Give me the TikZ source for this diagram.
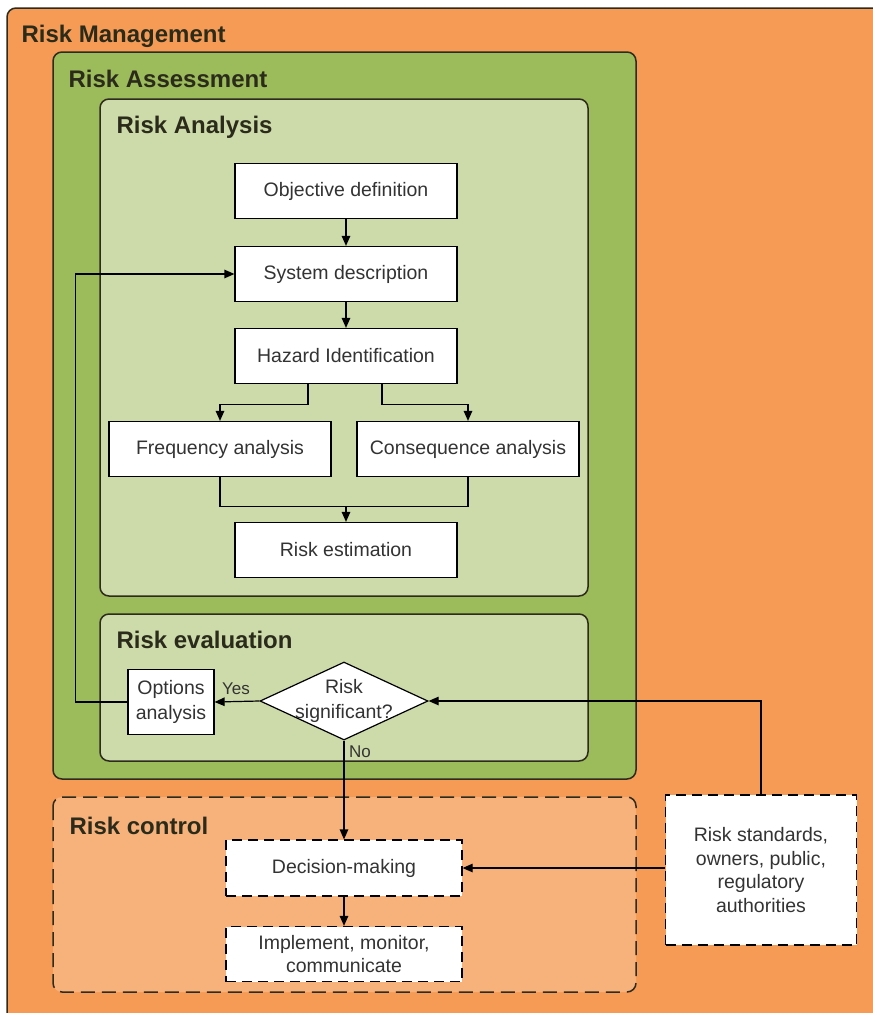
\documentclass[tikz,border=0pt]{standalone}
\usepackage{fontspec}
\setmainfont{Liberation Sans}
\usetikzlibrary{arrows.meta,shapes.geometric}
\definecolor{mgmt}{HTML}{F59B55}
\definecolor{assess}{HTML}{9CBB5A}
\definecolor{light}{HTML}{CCDBA9}
\definecolor{control}{HTML}{F7B27B}
\definecolor{edge}{HTML}{2D2A1E}
\definecolor{titletxt}{HTML}{2B2B1B}
\definecolor{boxtxt}{HTML}{333333}

\begin{document}
\begin{tikzpicture}[x=1pt,y=-1pt,
  container/.style={draw=edge,line width=1.5pt,rounded corners=9pt},
  title/.style={anchor=base west,font=\fontsize{24}{28}\selectfont\bfseries,text=titletxt},
  stepbox/.style={draw=black,line width=1.2pt,fill=white,minimum width=222pt,minimum height=55pt,
    font=\fontsize{19.5}{23.5}\selectfont,text=boxtxt,align=center},
  dashbox/.style={stepbox,dash pattern=on 10pt off 6pt},
  lbl/.style={font=\fontsize{17}{20}\selectfont,text=boxtxt},
  flow/.style={line width=1.2pt},
  arr/.style={flow,-{Triangle[length=10pt,width=8.5pt]}}]
\useasboundingbox (0,0) rectangle (873,1013);
\clip (0,0) rectangle (873,1013);
\fill[white] (0,0) rectangle (873,1013);
\draw[container,fill=mgmt] (7,8) rectangle (890,1030);
\draw[container,fill=assess] (53,52) rectangle (636,779);
\draw[container,fill=light] (100,99) rectangle (588,596);
\draw[container,fill=light] (100,614) rectangle (588,761);
\draw[container,fill=control,dash pattern=on 14pt off 7pt] (53,797) rectangle (636,992);
\node[title] (mgmtT) at (18,42) {Risk Management};
\node[title] (assessT) at (65,87) {Risk Assessment};
\node[title] (anaT) at (113,133) {Risk Analysis};
\node[title] (evalT) at (113,648) {Risk evaluation};
\node[title] (ctrlT) at (66,834) {Risk control};
\node[stepbox] (obj) at (346,191) {Objective definition};
\node[stepbox] (sys) at (346,274) {System description};
\node[stepbox] (haz) at (346,356) {Hazard Identification};
\node[stepbox] (freq) at (220,449) {Frequency analysis};
\node[stepbox] (cons) at (468,449) {Consequence analysis};
\node[stepbox] (est) at (346,550) {Risk estimation};
\node[stepbox,minimum width=86pt,minimum height=65pt,inner sep=2pt,font=\fontsize{19.5}{25}\selectfont] (opt) at (171,702) {Options\\analysis};
\node[draw=black,line width=1.2pt,fill=white,diamond,minimum width=168pt,minimum height=78pt,inner sep=0pt,
  label={[font=\fontsize{19.5}{25}\selectfont,text=boxtxt,align=center]center:Risk\\significant?}] (sig) at (344,701) {};
\node[lbl] (yes) at (236,689) {Yes};
\node[lbl] (no) at (360,752) {No};
\node[dashbox,minimum width=236pt,minimum height=56pt] (dec) at (344,868) {Decision-making};
\node[dashbox,minimum width=236pt,minimum height=55pt] (impl) at (344,954) {Implement, monitor,\\communicate};
\node[dashbox,minimum width=191pt,minimum height=150pt] (std) at (761,870) {Risk standards,\\owners, public,\\regulatory\\authorities};
\draw[arr] (obj) -- (sys);
\draw[arr] (sys) -- (haz);
\draw[arr] ([xshift=-38pt]haz.south) -- ++(0,20) -| (freq.north);
\draw[arr] ([xshift=36pt]haz.south) -- ++(0,20) -| (cons.north);
\draw[flow] (freq.south) -- ++(0,29) coordinate (join) -| (cons.south);
\draw[arr] (join -| est.north) -- (est.north);
\draw[arr] (sig.west) -- (opt.east);
\draw[arr] (opt.west) -- ++(-52,0) |- (sys.west);
\draw[arr] (sig.south) -- (dec.north);
\draw[arr] (dec) -- (impl);
\draw[arr] (dec.east -| std.west) -- (dec.east);
\draw[arr] (std.north) |- (sig.east);
\end{tikzpicture}
\end{document}
